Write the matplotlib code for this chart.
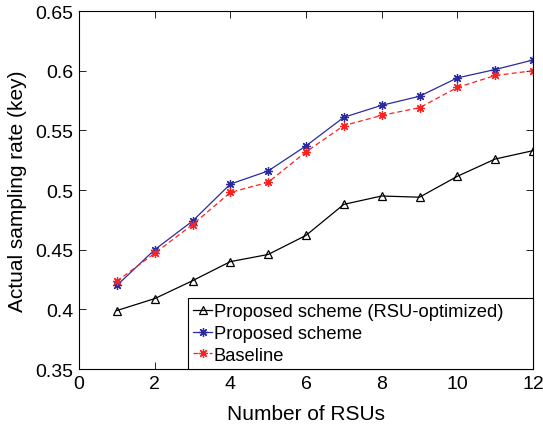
import matplotlib.pyplot as plt

plt.rcParams['font.family'] = ['Liberation Sans', 'DejaVu Sans']

rsus = [1, 2, 3, 4, 5, 6, 7, 8, 9, 10, 11, 12]
rsu_optimized = [0.399, 0.409, 0.424, 0.440, 0.446, 0.462, 0.488, 0.495, 0.494, 0.5115, 0.526, 0.533]
proposed = [0.420, 0.450, 0.474, 0.505, 0.516, 0.537, 0.561, 0.571, 0.5786, 0.594, 0.601, 0.609]
baseline = [0.4236, 0.447, 0.471, 0.498, 0.5065, 0.532, 0.554, 0.5626, 0.569, 0.586, 0.596, 0.600]

xticks = [0, 2, 4, 6, 8, 10, 12]
yticks = [0.35, 0.4, 0.45, 0.5, 0.55, 0.6, 0.65]
ytick_labels = ['0.35', '0.4', '0.45', '0.5', '0.55', '0.6', '0.65']

fig = plt.figure(figsize=(5.43, 4.31), dpi=100)
ax = fig.add_axes([0.1455, 0.1415, 0.8361, 0.8305])

# 8-armed asterisk like the usual '*' marker in MATLAB figures
star = (8, 2, 0)

ax.plot(rsus, rsu_optimized, color='black', lw=0.9, marker='^', ms=6,
        mfc='none', mec='black', mew=0.9, label='Proposed scheme (RSU-optimized)')
ax.plot(rsus, proposed, color='#2b2ba0', lw=0.9, marker=star, ms=6.5,
        mew=0.9, label='Proposed scheme')
ax.plot(rsus, baseline, color='#ff2020', lw=0.9, ls=(0, (4, 2.5)), marker=star, ms=6.5,
        mew=0.9, label='Baseline')

ax.set_xlim(0, 12)
ax.set_ylim(0.35, 0.65)
ax.set_xticks(xticks)
ax.set_yticks(yticks)
ax.set_yticklabels(ytick_labels)
ax.tick_params(direction='in', top=True, right=True, labelsize=14, length=5, width=0.6, pad=4)
for s in ax.spines.values():
    s.set_linewidth(0.8)

ax.set_xlabel('Number of RSUs', fontsize=15, labelpad=9)
ax.set_ylabel('Actual sampling rate (key)', fontsize=15, labelpad=6)

# legend box stretched over the lower right corner
leg = ax.legend(loc='lower left', bbox_to_anchor=(0.240, 0.0, 0.760, 0.21), mode='expand',
                fontsize=13.2, frameon=True, fancybox=False,
                edgecolor='black', framealpha=1, borderaxespad=0, handlelength=1.0,
                handletextpad=0.1, labelspacing=0.25, borderpad=0.3)
leg.get_frame().set_linewidth(0.8)

fig.savefig('out.png', dpi=100)
